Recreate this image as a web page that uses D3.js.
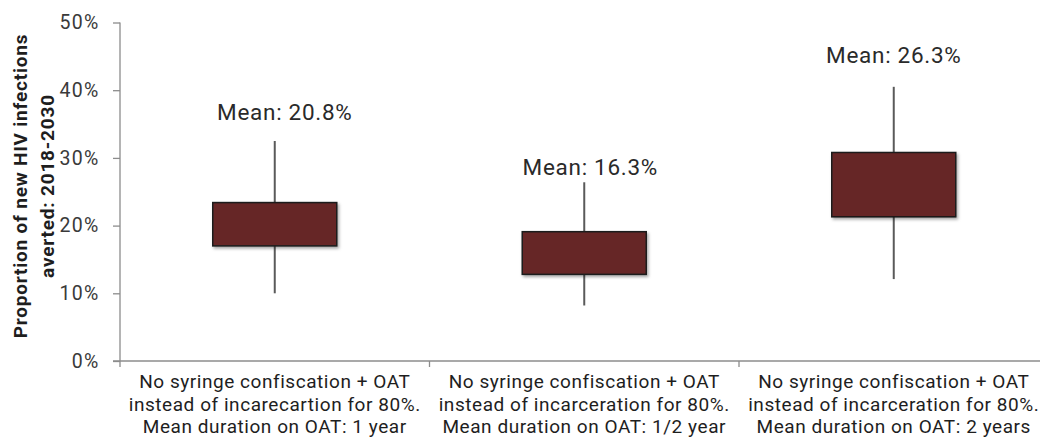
<!DOCTYPE html>
<html>
<head>
<meta charset="utf-8">
<script src="https://cdn.jsdelivr.net/npm/d3@7"></script>
<style>
  html, body { margin: 0; padding: 0; background: #fff; }
  svg { display: block; font-family: Roboto, "Open Sans", sans-serif; }
</style>
</head>
<body>
<svg id="chart" width="1040" height="445"></svg>
<script>
// Scenario labels (one entry per line of the category label)
const categories = [
  ["No syringe confiscation + OAT", "instead of incarecartion for 80%.", "Mean duration on OAT: 1 year"],
  ["No syringe confiscation + OAT", "instead of incarceration for 80%.", "Mean duration on OAT: 1/2 year"],
  ["No syringe confiscation + OAT", "instead of incarceration for 80%.", "Mean duration on OAT: 2 years"]
];
// Box-and-whisker summaries of the proportion of infections averted (fractions)
const whiskerLow  = [0.100, 0.082, 0.121];
const boxLow      = [0.170, 0.128, 0.213];
const boxHigh     = [0.234, 0.191, 0.308];
const whiskerHigh = [0.325, 0.264, 0.405];
const means       = [0.208, 0.163, 0.263];
const yTicks      = [0, 0.1, 0.2, 0.3, 0.4, 0.5];
const yTitle      = ["Proportion of new HIV infections", "averted: 2018-2030"];

// Placement of each mean label relative to its whisker top (px)
const labelLift  = [21, 7, 24];
const labelShift = [10, 6, 0];

const svg = d3.select("#chart");
const plot = { left: 120, right: 1048.5, top: 22.5, bottom: 361 };

const x = d3.scaleBand()
  .domain(d3.range(categories.length))
  .range([plot.left, plot.right])
  .paddingInner(0).paddingOuter(0);

const y = d3.scaleLinear().domain([0, 0.5]).range([plot.bottom, plot.top]);

const axisColor = "#8c8c8c";
const textColor = "#3a3a3a";

// Drop shadow under the boxes
const defs = svg.append("defs");
const f = defs.append("filter").attr("id", "shadow")
  .attr("x", "-10%").attr("y", "-10%").attr("width", "125%").attr("height", "130%");
f.append("feDropShadow").attr("dx", 1.5).attr("dy", 2).attr("stdDeviation", 1.5)
  .attr("flood-color", "#000").attr("flood-opacity", 0.35);

// Y axis
const yAxis = svg.append("g")
  .attr("transform", `translate(${plot.left},0)`)
  .call(d3.axisLeft(y).tickValues(yTicks).tickFormat(d3.format(".0%")).tickSize(7).tickPadding(13.5));
yAxis.select(".domain").attr("stroke", axisColor).attr("stroke-width", 1.3)
  .attr("d", `M0,${plot.top}V${plot.bottom + 6}`);
yAxis.selectAll(".tick line").attr("stroke", axisColor).attr("stroke-width", 1.3);
yAxis.selectAll(".tick text").attr("fill", textColor).attr("font-size", 19.5)
  .attr("letter-spacing", 1.3)
  .attr("font-family", "Roboto, sans-serif");

// X axis with tick marks on category boundaries
const xAxis = svg.append("g").attr("transform", `translate(0,${plot.bottom})`);
xAxis.append("line").attr("x1", plot.left - 7).attr("x2", 1040)
  .attr("stroke", axisColor).attr("stroke-width", 1.3);
xAxis.selectAll("line.bound")
  .data(d3.range(1, categories.length))
  .join("line").attr("class", "bound")
  .attr("x1", d => x(d)).attr("x2", d => x(d))
  .attr("y1", 0).attr("y2", 6)
  .attr("stroke", axisColor).attr("stroke-width", 1.3);

// Category labels
const catLabels = xAxis.selectAll("text.cat")
  .data(categories)
  .join("text").attr("class", "cat")
  .attr("text-anchor", "middle")
  .attr("fill", "#1e1e1e")
  .attr("font-size", 19)
  .attr("letter-spacing", 0.55);
catLabels.selectAll("tspan")
  .data((d, i) => d.map(line => ({ line, i })))
  .join("tspan")
  .attr("x", d => x(d.i) + x.bandwidth() / 2)
  .attr("y", (d, j) => 27 + j * 22.5)
  .text(d => d.line);

// Y axis title
const title = svg.append("text")
  .attr("transform", "translate(0,186) rotate(-90)")
  .attr("text-anchor", "middle")
  .attr("font-weight", "bold")
  .attr("font-size", 19)
  .attr("letter-spacing", 0.8)
  .attr("fill", "#1e1e1e");
title.selectAll("tspan").data(yTitle).join("tspan")
  .attr("x", 0).attr("y", (d, i) => 27 + i * 27)
  .text(d => d);

// Boxes and whiskers
const boxW = 124;
const groups = svg.selectAll("g.box")
  .data(categories.map((c, i) => i))
  .join("g").attr("class", "box")
  .attr("transform", i => `translate(${x(i) + x.bandwidth() / 2},0)`);

groups.append("line")
  .attr("x1", 0).attr("x2", 0)
  .attr("y1", i => y(whiskerHigh[i])).attr("y2", i => y(whiskerLow[i]))
  .attr("stroke", "#5a5a5a").attr("stroke-width", 2);

groups.append("rect")
  .attr("x", -boxW / 2).attr("width", boxW)
  .attr("y", i => y(boxHigh[i]))
  .attr("height", i => y(boxLow[i]) - y(boxHigh[i]))
  .attr("fill", "#662626")
  .attr("stroke", "#1a1a1a").attr("stroke-width", 1.5)
  .attr("filter", "url(#shadow)");

groups.append("text")
  .attr("text-anchor", "middle")
  .attr("x", i => labelShift[i])
  .attr("y", i => y(whiskerHigh[i]) - labelLift[i])
  .attr("font-size", 22.5)
  .attr("letter-spacing", 0.7)
  .attr("fill", "#2a2a2a")
  .text(i => "Mean: " + d3.format(".1%")(means[i]));
</script>
</body>
</html>
